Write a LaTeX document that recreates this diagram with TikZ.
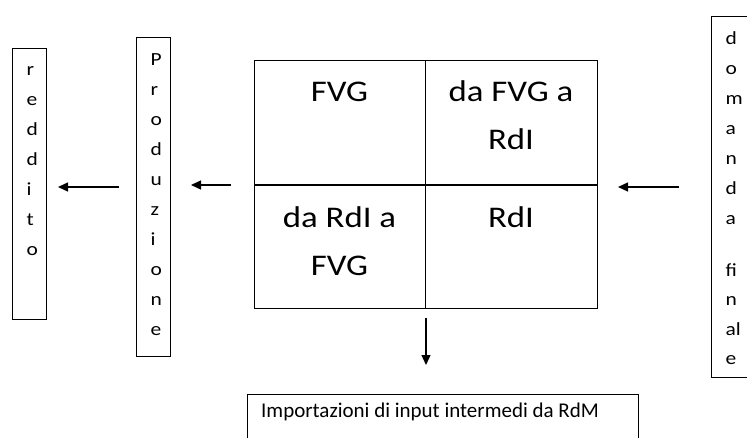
\documentclass[tikz,border=0pt]{standalone}
\usepackage{fontspec}
\setmainfont{Carlito}
\newfontfamily\widefont{Carlito}[FakeStretch=1.16]
\usetikzlibrary{arrows.meta}
\tikzset{
  box/.style={draw, line width=0.9pt, inner sep=0pt, anchor=north west},
  cell/.style={draw, line width=1pt, inner sep=0pt, anchor=north west, minimum width=171pt, minimum height=124pt},
  letter/.style={inner sep=0pt, anchor=base west, font=\widefont\fontsize{18.5}{30}\selectfont},
  celltext/.style={inner sep=0pt, anchor=base, font=\widefont\fontsize{30}{48}\selectfont},
  arr/.style={line width=1.3pt, -{Triangle[length=10pt,width=9pt]}}
}
\begin{document}
\begin{tikzpicture}[x=1pt,y=-1pt]
\useasboundingbox (0,0) rectangle (747,438);
% side boxes
\node[box, minimum width=34pt, minimum height=271pt] (redbox) at (12,48) {};
\node[box, minimum width=34pt, minimum height=319pt] (probox) at (136,37) {};
\node[box, minimum width=60pt, minimum height=361pt] (dombox) at (711,16) {};
\node[box, minimum width=391pt, minimum height=60pt] (impbox) at (247,394) {};
% letters
\foreach \c [count=\i from 0] in {r,e,d,d,i,t,o}
  \node[letter] (red\i) at (26.5,76+30*\i) {\c};
\foreach \c [count=\i from 0] in {P,r,o,d,u,z,i,o,n,e}
  \node[letter] (pro\i) at (150.5,66+30*\i) {\c};
\foreach \c/\y [count=\i] in {d/45,o/75,m/105,a/135,n/165,d/195,a/225,fi/277,n/306,al/335,e/364}
  \node[letter] (dom\i) at (725.5,\y) {\c};
% grid
\node[cell] (c11) at (254,60) {};
\node[cell, minimum width=172pt] (c12) at (425,60) {};
\node[cell, minimum height=123pt] (c21) at (254,185) {};
\node[cell, minimum width=172pt, minimum height=123pt] (c22) at (425,185) {};
\node[celltext] (t11) at (339.5,102) {FVG};
\node[celltext] (t12a) at (511,102) {da FVG a};
\node[celltext] (t12b) at (511,150) {RdI};
\node[celltext] (t21a) at (339.5,228) {da RdI a};
\node[celltext] (t21b) at (339.5,276) {FVG};
\node[celltext] (t22) at (511,228) {RdI};
% bottom text
\node[inner sep=0pt, anchor=base west, font=\fontsize{21}{26}\selectfont] (imp) at (261,417) {Importazioni di input intermedi da RdM};
% arrows
\coordinate (a1s) at (119,187); \coordinate (a1e) at (58,187);
\coordinate (a2s) at (231,185); \coordinate (a2e) at (191,185);
\coordinate (a3s) at (679,187); \coordinate (a3e) at (618,187);
\coordinate (a4s) at (426,318); \coordinate (a4e) at (426,365);
\draw[arr] (a1s) -- (a1e);
\draw[arr] (a2s) -- (a2e);
\draw[arr] (a3s) -- (a3e);
\draw[arr] (a4s) -- (a4e);
\end{tikzpicture}
\end{document}
